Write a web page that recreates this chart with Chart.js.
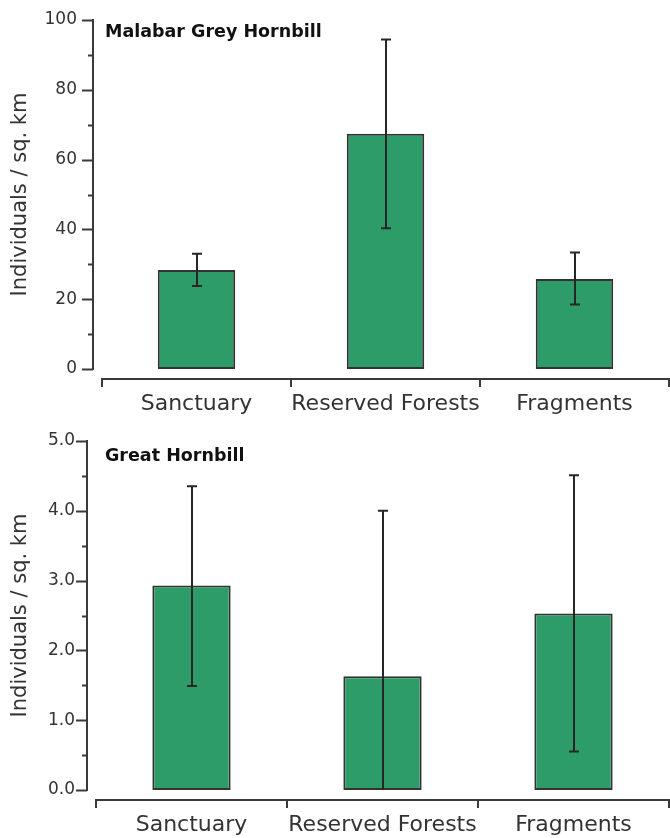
<!DOCTYPE html>
<html>
<head>
<meta charset="utf-8">
<script src="https://cdn.jsdelivr.net/npm/chart.js@4.4.1/dist/chart.umd.min.js"></script>
<style>
  html, body { margin: 0; padding: 0; background: #fff; }
  body { width: 670px; height: 838px; position: relative; overflow: hidden; }
  .panel { position: absolute; left: 0; width: 670px; }
  #top { top: 0; height: 425px; }
  #bottom { top: 415px; height: 423px; }
</style>
</head>
<body>
<div class="panel" id="top"><canvas id="malabarChart"></canvas></div>
<div class="panel" id="bottom"><canvas id="greatChart"></canvas></div>
<script>
const categories = ['Sanctuary', 'Reserved Forests', 'Fragments'];

// Malabar Grey Hornbill density (individuals / sq. km)
const malabarMeans = [28.4, 67.4, 25.8];
const malabarUpper = [33.0, 94.4, 33.4];
const malabarLower = [23.8, 40.3, 18.5];
const malabarTicks = [0, 20, 40, 60, 80, 100];

// Great Hornbill density (individuals / sq. km)
const greatMeans = [2.93, 1.63, 2.53];
const greatUpper = [4.35, 4.00, 4.51];
const greatLower = [1.49, 0.00, 0.55];
const greatTicks = [0.0, 1.0, 2.0, 3.0, 4.0, 5.0];

const barFill = '#2e9c69';
const inkColor = '#333333';

// axis lines drawn a few pixels away from the plot area, with minor ticks
const offsetAxes = {
    id: 'offsetAxes',
    afterDraw(chart, args, opts) {
        const { ctx, chartArea } = chart;
        const y = chart.scales.y;
        const x = chart.scales.x;
        const ax = chartArea.left - opts.gapX;
        const ay = chartArea.bottom + opts.gapY;
        ctx.save();
        ctx.strokeStyle = '#3a3a3a';
        ctx.lineWidth = 2;
        ctx.lineCap = 'butt';

        // y axis
        ctx.beginPath();
        ctx.moveTo(ax, y.getPixelForValue(y.max) - 1);
        ctx.lineTo(ax, y.getPixelForValue(y.min) + 1);
        ctx.stroke();
        const n = Math.round((y.max - y.min) / opts.minorStep);
        for (let i = 0; i <= n; i++) {
            const v = y.min + i * opts.minorStep;
            const py = Math.round(y.getPixelForValue(v)) + 0.5;
            const len = (i % 2 === 0) ? 11 : 5;
            ctx.beginPath();
            ctx.moveTo(ax - len, py);
            ctx.lineTo(ax, py);
            ctx.stroke();
        }

        // x axis with category boundary ticks
        ctx.beginPath();
        ctx.moveTo(chartArea.left - 1, ay);
        ctx.lineTo(chart.width, ay);
        ctx.stroke();
        const band = x.getPixelForValue(1) - x.getPixelForValue(0);
        for (let i = 0; i <= categories.length; i++) {
            const px = x.getPixelForValue(0) - band / 2 + i * band;
            ctx.beginPath();
            ctx.moveTo(px, ay - 1);
            ctx.lineTo(px, ay + 8);
            ctx.stroke();
        }

        // panel label
        ctx.fillStyle = '#111';
        ctx.font = 'bold 17.5px "DejaVu Sans"';
        ctx.textAlign = 'left';
        ctx.textBaseline = 'alphabetic';
        ctx.fillText(opts.label, 105, opts.labelY);
        ctx.restore();
    }
};

const errorBars = {
    id: 'errorBars',
    afterDatasetsDraw(chart, args, opts) {
        const { ctx } = chart;
        const y = chart.scales.y;
        const meta = chart.getDatasetMeta(0);
        ctx.save();
        ctx.strokeStyle = '#262626';
        ctx.lineWidth = 2;
        meta.data.forEach((bar, i) => {
            const top = y.getPixelForValue(opts.upper[i]);
            const bottom = y.getPixelForValue(opts.lower[i]);
            const cx = Math.round(bar.x);
            ctx.beginPath();
            ctx.moveTo(cx, top);
            ctx.lineTo(cx, bottom);
            ctx.moveTo(cx - 5, top);
            ctx.lineTo(cx + 5, top);
            if (opts.lower[i] > 0) {
                ctx.moveTo(cx - 5, bottom);
                ctx.lineTo(cx + 5, bottom);
            }
            ctx.stroke();
        });
        ctx.restore();
    }
};

function makeChart(canvasId, cfg) {
    return new Chart(document.getElementById(canvasId), {
        type: 'bar',
        data: {
            labels: categories,
            datasets: [{
                data: cfg.means,
                backgroundColor: barFill,
                borderColor: inkColor,
                borderWidth: 2,
                borderSkipped: false,
                categoryPercentage: 1.0,
                barPercentage: 0.41
            }]
        },
        options: {
            responsive: true,
            maintainAspectRatio: false,
            animation: false,
            layout: { padding: { top: cfg.top, right: 1, left: 0, bottom: 0 } },
            scales: {
                x: {
                    grid: { display: false },
                    border: { display: false },
                    ticks: {
                        color: inkColor,
                        padding: cfg.xPad,
                        maxRotation: 0,
                        autoSkip: false,
                        font: { family: 'DejaVu Sans', size: 22 }
                    },
                    afterFit: (scale) => { scale.height = cfg.xHeight; }
                },
                y: {
                    min: cfg.ticks[0],
                    max: cfg.ticks[cfg.ticks.length - 1],
                    grid: { display: false },
                    border: { display: false },
                    ticks: {
                        stepSize: cfg.ticks[1] - cfg.ticks[0],
                        color: inkColor,
                        padding: cfg.yPad,
                        font: { family: 'DejaVu Sans', size: 17 },
                        callback: (v) => cfg.decimals ? Number(v).toFixed(cfg.decimals) : v
                    },
                    title: {
                        display: true,
                        text: 'Individuals / sq. km',
                        color: inkColor,
                        padding: { top: 8, bottom: 0 },
                        font: { family: 'DejaVu Sans', size: 21 }
                    },
                    afterFit: (scale) => {
                        scale.width = cfg.left;
                        scale.paddingTop = 0;
                        scale.paddingBottom = 0;
                    }
                }
            },
            plugins: {
                legend: { display: false },
                tooltip: { enabled: false },
                errorBars: { upper: cfg.upper, lower: cfg.lower },
                offsetAxes: {
                    gapX: 9, gapY: 10,
                    minorStep: (cfg.ticks[1] - cfg.ticks[0]) / 2,
                    label: cfg.label, labelY: cfg.labelY
                }
            }
        },
        plugins: [errorBars, offsetAxes]
    });
}

makeChart('malabarChart', {
    means: malabarMeans, upper: malabarUpper, lower: malabarLower,
    ticks: malabarTicks, decimals: 0,
    label: 'Malabar Grey Hornbill', labelY: 37,
    top: 20, left: 102, xHeight: 56, xPad: 14, yPad: 17
});

makeChart('greatChart', {
    means: greatMeans, upper: greatUpper, lower: greatLower,
    ticks: greatTicks, decimals: 1,
    label: 'Great Hornbill', labelY: 46,
    top: 26, left: 96, xHeight: 48, xPad: 14, yPad: 13
});
</script>
</body>
</html>
